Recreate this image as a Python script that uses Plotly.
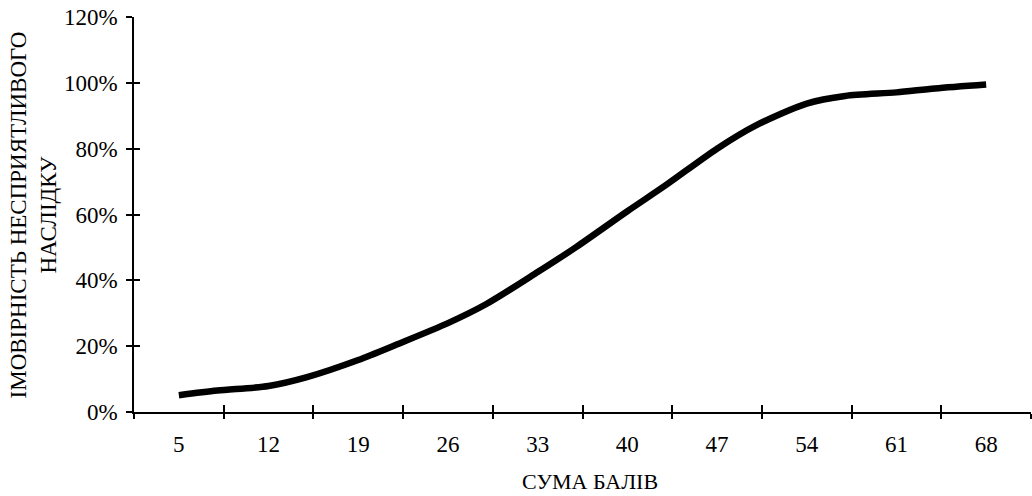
import plotly.graph_objects as go

# Data
score = [5, 8, 12, 15, 19, 22, 26, 29, 33, 36, 40, 43, 47, 50, 54, 57, 61, 64, 68]
prob = [0.051, 0.065, 0.079, 0.106, 0.158, 0.205, 0.270, 0.328, 0.425, 0.501,
        0.610, 0.689, 0.800, 0.870, 0.937, 0.960, 0.971, 0.983, 0.995]

label_vals = [5, 12, 19, 26, 33, 40, 47, 54, 61, 68]
label_text = [str(v) for v in label_vals]
bound_vals = [1.5, 8.5, 15.5, 22.5, 29.5, 36.5, 43.5, 50.5, 57.5, 64.5, 71.5]
y_ticks = [0, 0.2, 0.4, 0.6, 0.8, 1.0, 1.2]
y_text = ["0%", "20%", "40%", "60%", "80%", "100%", "120%"]

x_title = "СУМА БАЛІВ"
y_title = "ІМОВІРНІСТЬ НЕСПРИЯТЛИВОГО<br>НАСЛІДКУ"

FONT = "Liberation Serif"
FS = 23
XR = [1.5, 71.5]
YR = [0, 1.2]

fig = go.Figure()
fig.add_trace(go.Scatter(
    x=score, y=prob, mode="lines",
    line=dict(color="black", width=6.5, shape="spline", smoothing=0.8),
    showlegend=False, hoverinfo="skip",
))
# helper trace so the overlaying tick axes get drawn
fig.add_trace(go.Scatter(
    x=score, y=prob, mode="lines", xaxis="x2", yaxis="y2",
    line=dict(color="rgba(0,0,0,0)", width=0),
    showlegend=False, hoverinfo="skip",
))

fig.update_layout(
    width=1032, height=496,
    margin=dict(l=134, r=1, t=17, b=84),
    paper_bgcolor="white", plot_bgcolor="white",
    font=dict(family=FONT, size=FS, color="black"),
    xaxis=dict(
        range=XR, showgrid=False, zeroline=False, automargin=False,
        showline=True, linecolor="black", linewidth=1.5,
        tickmode="array", tickvals=label_vals, ticktext=label_text,
        ticks="", ticklabelstandoff=11,
        tickfont=dict(family=FONT, size=FS, color="black"),
        minor=dict(tickmode="array", tickvals=bound_vals, ticks="outside",
                   ticklen=5, tickwidth=1.5, tickcolor="black", showgrid=False),
    ),
    xaxis2=dict(
        range=XR, overlaying="x", anchor="y2", side="bottom", automargin=False,
        showgrid=False, zeroline=False, showline=False,
        tickmode="array", tickvals=bound_vals, ticks="inside",
        ticklen=7, tickwidth=1.5, tickcolor="black", showticklabels=False,
    ),
    yaxis=dict(
        range=YR, showgrid=False, zeroline=False, automargin=False,
        showline=True, linecolor="black", linewidth=1.5,
        tickmode="array", tickvals=y_ticks, ticktext=y_text,
        ticks="outside", ticklen=6, tickwidth=1.5, tickcolor="black",
        ticklabelstandoff=4,
        tickfont=dict(family=FONT, size=FS, color="black"),
    ),
    yaxis2=dict(
        range=YR, overlaying="y", anchor="x2", side="left", automargin=False,
        showgrid=False, zeroline=False, showline=False,
        tickmode="array", tickvals=y_ticks, ticks="inside",
        ticklen=6, tickwidth=1.5, tickcolor="black", showticklabels=False,
    ),
    annotations=[
        dict(text=y_title, xref="paper", yref="paper", x=-0.1115, y=0.5,
             xanchor="center", yanchor="middle", textangle=-90, showarrow=False,
             font=dict(family=FONT, size=FS, color="black")),
        dict(text=x_title, xref="paper", yref="paper", x=0.508, y=-0.177,
             xanchor="center", yanchor="middle", showarrow=False,
             font=dict(family=FONT, size=FS - 1, color="black")),
    ],
)

fig.write_html(
    "out.html",
    config={"displayModeBar": False},
    post_script="document.body.style.margin='0';document.body.style.padding='0';",
)
